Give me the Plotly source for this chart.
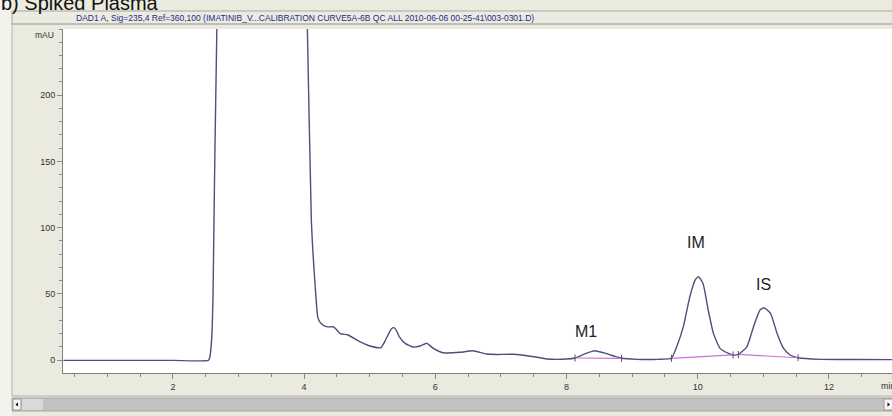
import plotly.graph_objects as go

# ---------------- data ----------------
time_min = [0.33, 1.0, 2.0, 2.54, 2.56, 2.59, 2.61, 2.62, 2.64, 2.67, 2.72, 3.0, 3.5, 3.95,
            4.05, 4.11, 4.17, 4.21, 4.25, 4.30, 4.36, 4.45, 4.55, 4.67, 4.85, 5.00, 5.17,
            5.23, 5.28, 5.33, 5.37, 5.41, 5.45, 5.54, 5.66, 5.77, 5.87, 5.97, 6.12, 6.38,
            6.57, 6.78, 6.95, 7.19, 7.5, 7.7, 8.0, 8.13, 8.3, 8.43, 8.6, 8.75, 8.84, 9.07,
            9.4, 9.60, 9.68, 9.78, 9.88, 9.96, 10.01, 10.08, 10.16, 10.24, 10.34, 10.47,
            10.54, 10.62, 10.75, 10.85, 10.95, 11.01, 11.11, 11.21, 11.31, 11.41, 11.53,
            11.86, 12.4, 12.96]
signal_mau = [-0.3, -0.3, -0.3, -0.3, 1.5, 15, 45, 80, 156, 250, 420, 900, 700, 400,
              250, 106, 55, 32, 28, 26, 25, 25, 20, 18.9, 13.8, 10.6, 9.3,
              14, 19, 23.5, 24.4, 22, 17.6, 12.6, 9.8, 10.6, 12.6, 8.8, 5.5, 5.8,
              7.0, 4.5, 4.2, 4.3, 2.5, 0.8, 0.7, 1.5, 5.0, 7.0, 5.0, 2.5, 1.3, 0.5,
              0.5, 1.3, 10, 25, 47.8, 60.4, 62.9, 57.9, 37.8, 20.1, 8.8, 5.0,
              3.8, 4.2, 10, 25, 37.8, 39.5, 35.2, 20.1, 8.8, 3.8, 1.7,
              0.5, 0.4, 0.3]

# integration baselines (start / end of each peak)
bl_start_t = [8.13, 9.60, 10.62]
bl_start_v = [1.5, 1.3, 4.2]
bl_end_t = [8.84, 10.54, 11.53]
bl_end_v = [1.3, 3.8, 1.7]

# peak labels
peak_labels = ["M1", "IM", "IS"]
label_t = [8.29, 9.97, 11.0]
label_v = [21.4, 88.6, 57.2]

x_ticks = [2, 4, 6, 8, 10, 12]
y_ticks = [0, 50, 100, 150, 200]

title_text = ("DAD1 A, Sig=235,4 Ref=360,100 (IMATINIB_V...CALIBRATION CURVE5A-6B QC ALL "
              "2010-06-06 00-25-41\\003-0301.D)")

# ---------------- layout geometry ----------------
FW, FH = 892, 416
L, T, R, B = 63, 29, 892, 373
W, H = R - L, B - T


def px(x):
    return (x - L) / W


def py(y):
    return (B - y) / H


PANEL = "#EBEADF"
CURVE = "#4E4F7C"
PINK = "#D070D0"

fig = go.Figure()

fig.add_trace(go.Scatter(x=time_min, y=signal_mau, mode="lines",
                         line=dict(color=CURVE, width=1.4, shape="spline", smoothing=0.5),
                         hoverinfo="skip", showlegend=False))

for i in range(len(bl_start_t)):
    fig.add_trace(go.Scatter(x=[bl_start_t[i], bl_end_t[i]], y=[bl_start_v[i], bl_end_v[i]],
                             mode="lines", line=dict(color=PINK, width=1.2),
                             hoverinfo="skip", showlegend=False))

fig.add_trace(go.Scatter(x=bl_start_t + bl_end_t, y=bl_start_v + bl_end_v, mode="markers",
                         marker=dict(symbol="line-ns", size=5,
                                     line=dict(color=CURVE, width=1)),
                         hoverinfo="skip", showlegend=False))

for lab, t, v in zip(peak_labels, label_t, label_v):
    fig.add_annotation(x=t, y=v, xref="x", yref="y", text=lab, showarrow=False,
                       font=dict(family="Liberation Sans, Arial", size=16, color="#222222"))

shapes = []
# left outer strip
shapes.append(dict(type="rect", xref="paper", yref="paper", x0=px(0), x1=px(12), y0=py(FH), y1=py(0),
                   fillcolor="#F3F2EC", line=dict(width=0), layer="below"))
# header bar
shapes.append(dict(type="rect", xref="paper", yref="paper", x0=px(12), x1=px(FW + 2), y0=py(24), y1=py(11),
                   fillcolor="#ECEBE1", line=dict(color="#A8A89E", width=1), layer="below"))
# outer frame of chart panel
shapes.append(dict(type="rect", xref="paper", yref="paper", x0=px(12), x1=px(FW + 2), y0=py(396), y1=py(24),
                   fillcolor="rgba(0,0,0,0)", line=dict(color="#B4B4AA", width=1), layer="below"))
# scrollbar
shapes.append(dict(type="rect", xref="paper", yref="paper", x0=px(12), x1=px(FW + 2), y0=py(411), y1=py(398),
                   fillcolor="#C2C2C2", line=dict(color="#A8A8A8", width=1), layer="below"))
shapes.append(dict(type="rect", xref="paper", yref="paper", x0=px(13), x1=px(21), y0=py(410), y1=py(399),
                   fillcolor="#F4F4F2", line=dict(color="#9A9A9A", width=1), layer="below"))
shapes.append(dict(type="rect", xref="paper", yref="paper", x0=px(22), x1=px(43), y0=py(410), y1=py(399),
                   fillcolor="#D9D9D7", line=dict(width=0), layer="below"))
shapes.append(dict(type="rect", xref="paper", yref="paper", x0=px(884), x1=px(FW + 2), y0=py(410), y1=py(399),
                   fillcolor="#F4F4F2", line=dict(color="#9A9A9A", width=1), layer="below"))
shapes.append(dict(type="path", xref="paper", yref="paper",
                   path=f"M {px(15.5)},{py(404.5)} L {px(18)},{py(402.5)} L {px(18)},{py(406.5)} Z",
                   fillcolor="#000000", line=dict(width=0), layer="below"))
shapes.append(dict(type="path", xref="paper", yref="paper",
                   path=f"M {px(890)},{py(404.5)} L {px(887.5)},{py(402.5)} L {px(887.5)},{py(406.5)} Z",
                   fillcolor="#000000", line=dict(width=0), layer="below"))

fig.update_layout(shapes=shapes)

# texts outside the plot area
fig.add_annotation(xref="paper", yref="paper", x=px(-1), y=py(3), xanchor="left", yanchor="middle",
                   text="b) Spiked Plasma", showarrow=False,
                   font=dict(family="Liberation Sans, Arial", size=20, color="#111111"))
fig.add_annotation(xref="paper", yref="paper", x=px(305), y=py(17.5), xanchor="center", yanchor="middle",
                   text=title_text, showarrow=False,
                   font=dict(family="Liberation Sans, Arial", size=8.5, color="#1E2A8C"))
fig.add_annotation(xref="paper", yref="paper", x=px(56), y=py(35), xanchor="right", yanchor="middle",
                   text="mAU", showarrow=False,
                   font=dict(family="Liberation Sans, Arial", size=8.5, color="#333333"))
fig.add_annotation(xref="paper", yref="paper", x=px(879), y=py(385.5), xanchor="left", yanchor="middle",
                   text="min", showarrow=False,
                   font=dict(family="Liberation Sans, Arial", size=9, color="#333333"))

tickfont = dict(family="Liberation Sans, Arial", size=9, color="#333333")

fig.update_xaxes(range=[(L - 41.7) / 65.6, (R - 41.7) / 65.6], tickvals=x_ticks,
                 ticks="outside", ticklen=5, tickwidth=1, tickcolor="#8A8A8A",
                 minor=dict(dtick=0.5, ticks="outside", ticklen=3, tickcolor="#8A8A8A"),
                 showgrid=False, zeroline=False, showline=True, linecolor="#7F7F7F", linewidth=1,
                 tickfont=tickfont)
fig.update_yaxes(range=[(360 - B) / 1.324, (360 - T) / 1.324], tickvals=y_ticks,
                 ticks="outside", ticklen=5, tickwidth=1, tickcolor="#8A8A8A",
                 minor=dict(dtick=10, ticks="outside", ticklen=3, tickcolor="#8A8A8A"),
                 showgrid=False, zeroline=False, showline=True, linecolor="#7F7F7F", linewidth=1,
                 tickfont=tickfont)

fig.update_layout(width=FW, height=FH, margin=dict(l=L, r=FW - R, t=T, b=FH - B),
                  paper_bgcolor=PANEL, plot_bgcolor="#FFFFFF", showlegend=False)

fig.write_html("out.html")
